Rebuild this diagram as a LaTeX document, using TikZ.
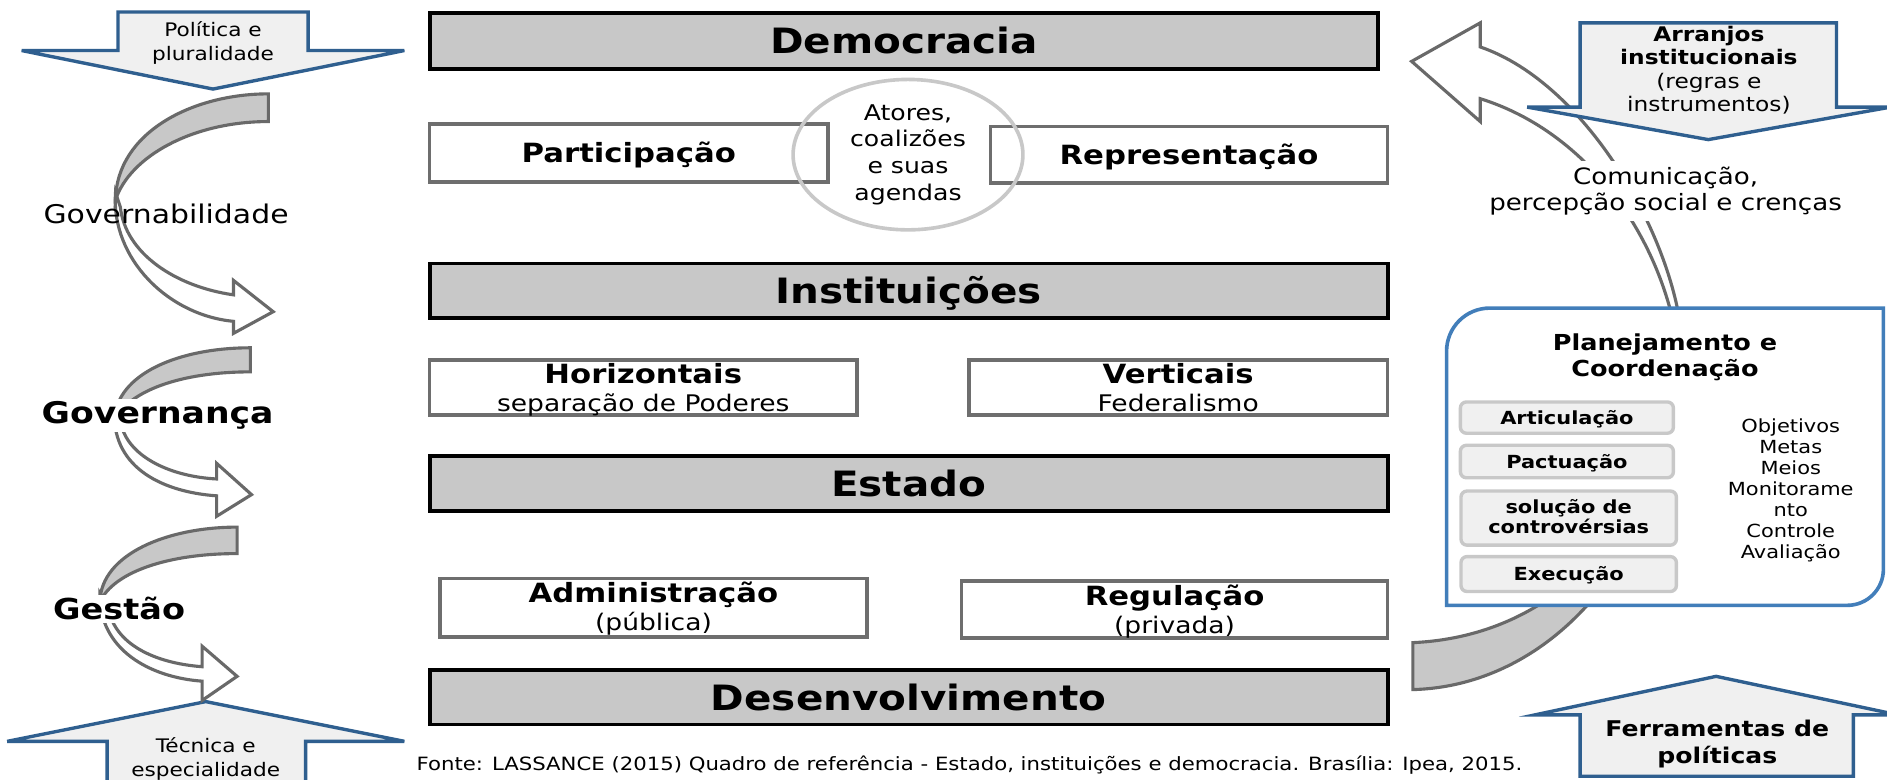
\documentclass[tikz,border=0pt]{standalone}
\usepackage{fontspec}
\setmainfont{DejaVu Sans}[FakeStretch=1.16]
\usetikzlibrary{shapes.geometric}
\definecolor{boxgray}{RGB}{200,200,200}
\definecolor{boxedge}{RGB}{110,110,110}
\definecolor{arrowblue}{RGB}{47,95,143}
\definecolor{arrowfill}{RGB}{240,240,240}
\definecolor{panelblue}{RGB}{66,126,186}
\definecolor{lightedge}{RGB}{200,200,200}
\definecolor{swirledge}{RGB}{105,105,105}
\tikzset{
  bigbox/.style={draw=black, line width=3.2pt, fill=boxgray, inner sep=0pt, rectangle,
    font=\fontsize{29}{34}\selectfont\bfseries, text height=21pt, text depth=0pt},
  midbox/.style={draw=boxedge, line width=3pt, fill=white, inner sep=0pt, rectangle,
    font=\fontsize{22}{26}\selectfont\bfseries, text height=17pt, text depth=1pt},
  plainbox/.style={draw=boxedge, line width=3pt, fill=white, inner sep=0pt, rectangle},
  twoline/.style={inner sep=0pt, align=center, anchor=base, font=\fontsize{19}{23}\selectfont},
  blockarrow/.style={draw=arrowblue, line width=2.8pt, fill=arrowfill, line join=miter},
  swirlfront/.style={draw=swirledge, line width=2.6pt, fill=white, line join=miter},
  swirlback/.style={draw=swirledge, line width=2.6pt, fill=boxgray, line join=miter},
  tool/.style={draw=lightedge, line width=2.8pt, fill=arrowfill, rounded corners=5pt, inner sep=0pt,
    font=\fontsize{15}{17}\selectfont\bfseries, text height=12pt, text depth=1pt},
}
\begin{document}
\begin{tikzpicture}[x=1pt, y=-1pt]
\useasboundingbox (0,0) rectangle (1568,648);
\fill[white] (0,0) rectangle (1568,648);

% ---------- right big curved arrow ----------
\draw[swirlback] (1174,573) .. controls (1290,570) and (1390,460) .. (1398,290)
   .. controls (1385,420) and (1305,528) .. (1174,534) -- cycle;
\draw[swirlfront] (1398,285) .. controls (1392,200) and (1320,70) .. (1230,39)
   -- (1230,19) -- (1173,51) -- (1230,101) -- (1230,82)
   .. controls (1320,110) and (1385,200) .. (1396,300) -- cycle;

% ---------- Arranjos arrow (down) ----------
\draw[blockarrow] (1313,19) -- (1526,19) -- (1526,89) -- (1571,89) -- (1419.5,116)
   -- (1269,89) -- (1313,89) -- cycle;
\node[inner sep=0pt, align=center, anchor=base, font=\fontsize{16.7}{19.4}\selectfont] (arranjos) at (1420,92.8)
  {\textbf{Arranjos}\\\textbf{institucionais}\\(regras e\\instrumentos)};

% ---------- communication label ----------
\node[fill=white, inner sep=5pt, align=center, anchor=base, font=\fontsize{18.7}{21}\selectfont] (comun) at (1384,174.5)
  {Comunicação,\\percepção social e crenças};

% ---------- Planejamento panel ----------
\draw[draw=panelblue, line width=3pt, fill=white]
  (1202,292) .. controls (1202,272.1) and (1217.9,256) .. (1238,256) -- (1565,256) -- (1565,473)
  .. controls (1565,489.6) and (1551.6,503) .. (1535,503) -- (1202,503) -- cycle;
\node[inner sep=0pt, align=center, anchor=base, font=\fontsize{18.3}{22}\selectfont\bfseries] (plan) at (1383.5,313)
  {Planejamento e\\Coordenação};
\node[tool, minimum width=177pt, minimum height=26pt] (artic) at (1302,347) {Articulação};
\node[tool, minimum width=177pt, minimum height=27pt] (pact) at (1302,383.5) {Pactuação};
\node[draw=lightedge, line width=2.8pt, fill=arrowfill, rounded corners=5pt, minimum width=179pt, minimum height=45pt] (solbox) at (1303.5,430.5) {};
\node[inner sep=0pt, align=center, anchor=base, font=\fontsize{15}{16.7}\selectfont\bfseries] (solt) at (1303.5,443.2)
  {solução de\\controvérsias};
\node[tool, minimum width=179pt, minimum height=29pt] (exec) at (1303.5,477) {Execução};
\node[inner sep=0pt, align=center, anchor=base, font=\fontsize{15}{17.5}\selectfont] (obj) at (1488,464)
  {Objetivos\\Metas\\Meios\\Monitorame\\nto\\Controle\\Avaliação};

% ---------- Ferramentas arrow (up) ----------
\draw[blockarrow] (1313,645) -- (1540,645) -- (1540,594) -- (1577,594) -- (1426,562)
   -- (1275.5,594) -- (1313,594) -- cycle;
\node[inner sep=0pt, align=center, anchor=base, font=\fontsize{18}{22.3}\selectfont\bfseries] (ferr) at (1427,634.3)
  {Ferramentas de\\políticas};

% ---------- left block arrows ----------
\draw[blockarrow] (98,10) -- (256,10) -- (256,42) -- (336,42) -- (177,74) -- (18,42) -- (98,42) -- cycle;
\node[inner sep=0pt, align=center, anchor=base, font=\fontsize{15.5}{19.4}\selectfont] (polit) at (177,49.9)
  {Política e\\pluralidade};
\draw[blockarrow] (89,660) -- (254,660) -- (254,616) -- (336,616) -- (171,583) -- (6,616) -- (89,616) -- cycle;
\node[inner sep=0pt, align=center, anchor=base, font=\fontsize{15.5}{20.6}\selectfont] (tecn) at (171,645.5)
  {Técnica e\\especialidade};

% ---------- left curved arrows ----------
\draw[swirlfront] (96,160) .. controls (92,215) and (140,262) .. (194,267) -- (194,277) -- (227,259)
   -- (194,233) -- (194,245) .. controls (145,238) and (104,210) .. (100,172) -- cycle;
\draw[swirlback] (223,78) .. controls (160,78) and (97,110) .. (96,166)
   .. controls (108,130) and (160,101) .. (223,101) -- cycle;
\draw[swirlfront] (95,343) .. controls (94,390) and (137,409) .. (180,412) -- (180,429) -- (209,411)
   -- (180,385) -- (180,398) .. controls (142,396) and (108,380) .. (101,354) -- cycle;
\draw[swirlback] (208,289) .. controls (150,289) and (96,310) .. (95,350)
   .. controls (106,325) and (150,309) .. (208,309) -- cycle;
\draw[swirlfront] (83,493) .. controls (82,540) and (125,563) .. (168,566) -- (168,582) -- (197,562)
   -- (168,537) -- (168,554) .. controls (128,551) and (95,535) .. (90,505) -- cycle;
\draw[swirlback] (197,438) .. controls (140,438) and (84,460) .. (83,500)
   .. controls (95,475) and (140,460) .. (197,460) -- cycle;

\node[inner sep=0pt, anchor=base, font=\fontsize{21.4}{25}\selectfont] (govb) at (138,185.5) {Governabilidade};
\node[fill=white, inner sep=2pt, anchor=base, font=\fontsize{24.8}{29}\selectfont\bfseries] (govn) at (131,351.7) {Governança};
\node[fill=white, inner sep=2pt, anchor=base, font=\fontsize{24}{29}\selectfont\bfseries] (gest) at (99,515) {Gestão};

% ---------- central column ----------
\node[bigbox, minimum width=788pt, minimum height=46pt] (demo) at (751,34) {Democracia};
\node[midbox, minimum width=331pt, minimum height=48pt] (part) at (522.5,127) {Participação};
\node[midbox, minimum width=330pt, minimum height=47pt] (repr) at (988,128.5) {Representação};
\node[draw=lightedge, line width=3pt, ellipse, inner sep=0pt, minimum width=191pt, minimum height=125pt,
  align=center, font=\fontsize{18}{22.2}\selectfont] (atores) at (754.5,128.5) {Atores,\\coalizões\\e suas\\agendas};

\node[bigbox, minimum width=796pt, minimum height=45pt] (inst) at (755,241.5) {Instituições};
\node[plainbox, minimum width=355pt, minimum height=46pt] (horiz) at (534.5,322) {};
\node[twoline] (horizt) at (534.5,342) {{\fontsize{22}{23.5}\selectfont\bfseries Horizontais}\\separação de Poderes};
\node[plainbox, minimum width=348pt, minimum height=46pt] (vert) at (979,322) {};
\node[twoline] (vertt) at (979,342) {{\fontsize{22}{23.5}\selectfont\bfseries Verticais}\\Federalismo};

\node[bigbox, minimum width=796pt, minimum height=45.5pt] (estado) at (755,402) {Estado};
\node[plainbox, minimum width=354.4pt, minimum height=48.5pt] (adm) at (543,505) {};
\node[twoline] (admt) at (543,523.5) {{\fontsize{22}{22.5}\selectfont\bfseries Administração}\\(pública)};
\node[plainbox, minimum width=354pt, minimum height=47pt] (reg) at (976,506.5) {};
\node[twoline] (regt) at (976,526) {{\fontsize{22}{22}\selectfont\bfseries Regulação}\\(privada)};

\node[bigbox, minimum width=796pt, minimum height=45pt] (desenv) at (755,579.5) {Desenvolvimento};

\node[inner sep=0pt, anchor=base west, font=\fontsize{15.2}{18}\selectfont] (fonte) at (346,640.4)
  {Fonte: LASSANCE (2015) Quadro de referência - Estado, instituições e democracia. Brasília: Ipea, 2015.};
\end{tikzpicture}
\end{document}
